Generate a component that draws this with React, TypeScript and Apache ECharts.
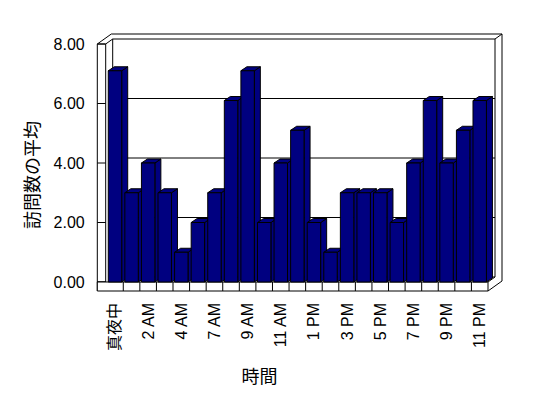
import React, { useEffect, useRef } from "react";
import * as echarts from "echarts";

const hours = [
  "真夜中", "1 AM", "2 AM", "3 AM", "4 AM", "5 AM", "7 AM", "8 AM", "9 AM", "10 AM",
  "11 AM", "12 PM", "1 PM", "2 PM", "3 PM", "4 PM", "5 PM", "6 PM", "7 PM", "8 PM",
  "9 PM", "10 PM", "11 PM",
];
const visits = [7.1, 3, 4, 3, 1, 2, 3, 6.1, 7.1, 2, 4, 5.1, 2, 1, 3, 3, 3, 2, 4, 6.1, 4, 5.1, 6.1];
const yTicks = [0, 2, 4, 6, 8];
const yTitle = "訪問数の平均";
const xTitle = "時間";

const FONT = "'Liberation Sans', Arial, 'Noto Sans CJK JP', sans-serif";

export default function App() {
  const ref = useRef<HTMLDivElement>(null);
  useEffect(() => {
    document.body.style.margin = "0";
    const chart = echarts.init(ref.current!, undefined, { renderer: "svg" });
    const L = 106.7, T = 44, R = 488, B = 282;
    const DX = 7, DY = -5;
    const OL = L - 9.4, IL = L - 1, FB = B + 9;
    const n = hours.length;
    const cw = (R - L) / n;
    const s = (B - T) / 8;
    const st = { stroke: "#000", lineWidth: 1, fill: "#fff" };
    const ln = { stroke: "#000", lineWidth: 1 };
    const g: any[] = [];
    // back wall
    g.push({ type: "rect", shape: { x: IL + DX, y: T + DY, width: R - IL, height: B - T }, style: st, silent: true });
    yTicks.filter((v) => v > 0 && v < 8).forEach((v) => {
      const y = B - v * s + DY;
      g.push({ type: "line", shape: { x1: IL + DX, y1: y, x2: R + DX, y2: y }, style: ln, silent: true });
    });
    // outer back edges
    g.push({
      type: "polyline",
      shape: { points: [[OL, T], [OL + 2 * DX, T + 2 * DY], [R + 2 * DX, T + 2 * DY], [R + 2 * DX, FB + 2 * DY], [R, FB]] },
      style: { ...ln, fill: null }, silent: true,
    });
    g.push({ type: "line", shape: { x1: R + DX, y1: T + DY, x2: R + 2 * DX, y2: T + 2 * DY }, style: ln, silent: true });
    g.push({ type: "line", shape: { x1: IL, y1: T, x2: IL + DX, y2: T + DY }, style: ln, silent: true });
    g.push({ type: "line", shape: { x1: R, y1: B, x2: R + DX, y2: B + DY }, style: ln, silent: true });
    // left wall front face
    g.push({ type: "rect", shape: { x: OL, y: T, width: IL - OL, height: B - T }, style: st, silent: true });
    g.push({ type: "line", shape: { x1: OL, y1: B, x2: OL, y2: FB }, style: ln, silent: true });
    yTicks.forEach((v) => {
      const y = B - v * s;
      g.push({ type: "line", shape: { x1: OL, y1: y, x2: IL, y2: y }, style: ln, silent: true });
    });
    // floor front face
    g.push({ type: "rect", shape: { x: OL, y: B, width: R - OL, height: FB - B }, style: st, silent: true });
    for (let k = 1; k < n; k++) {
      const x = L + k * cw;
      g.push({ type: "line", shape: { x1: x, y1: B, x2: x, y2: FB }, style: ln, silent: true });
    }
    // titles
    g.push({
      type: "text", x: 33, y: 175, rotation: Math.PI / 2,
      style: { text: yTitle, font: `18px ${FONT}`, fill: "#000", align: "center", verticalAlign: "middle" },
      silent: true,
    });
    g.push({
      type: "text", x: 259.5, y: 377,
      style: { text: xTitle, font: `18px ${FONT}`, fill: "#000", align: "center", verticalAlign: "middle" },
      silent: true,
    });

    chart.setOption({
      animation: false,
      grid: { left: L, top: T, width: R - L, height: B - T },
      xAxis: {
        type: "category",
        data: hours,
        axisLine: { show: false },
        axisTick: { show: false },
        axisLabel: { interval: 1, rotate: 90, margin: 21, fontSize: 16, fontFamily: FONT, color: "#000" },
      },
      yAxis: {
        type: "value",
        min: 0,
        max: 8,
        interval: 2,
        axisLine: { show: false },
        axisTick: { show: false },
        splitLine: { show: false },
        axisLabel: { margin: 22, fontSize: 16, fontFamily: FONT, color: "#000", formatter: (v: number) => v.toFixed(2) },
      },
      graphic: g,
      series: [
        {
          type: "custom",
          data: visits.map((v, i) => [i, v]),
          renderItem: (params: any, api: any) => {
            const i = api.value(0);
            const v = api.value(1);
            const base = api.coord([i, 0]);
            const top = api.coord([i, v]);
            const w = api.size([1, 0])[0] * 0.81;
            const l = base[0] - w / 2, r = base[0] + w / 2;
            const t = top[1], b = base[1];
            const dx = 6, dy = -4;
            const sty = { fill: "#000080", stroke: "#000", lineWidth: 1 };
            return {
              type: "group",
              children: [
                { type: "polygon", shape: { points: [[r, t], [r + dx, t + dy], [r + dx, b + dy], [r, b]] }, style: sty },
                { type: "polygon", shape: { points: [[l, t], [l + dx, t + dy], [r + dx, t + dy], [r, t]] }, style: sty },
                { type: "rect", shape: { x: l, y: t, width: w, height: b - t }, style: sty },
              ],
            };
          },
        },
      ],
    });
    return () => chart.dispose();
  }, []);
  return <div ref={ref} style={{ width: 548, height: 398 }} />;
}
